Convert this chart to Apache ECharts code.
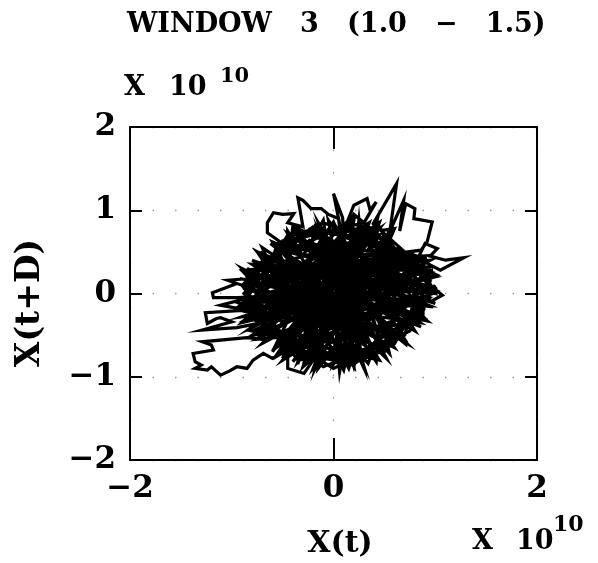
<!DOCTYPE html>
<html>
<head>
<meta charset="utf-8">
<script src="https://cdn.jsdelivr.net/npm/echarts@6/dist/echarts.min.js"></script>
<style>html,body{margin:0;padding:0;background:#fff;}#c{width:598px;height:563px;}</style>
</head>
<body>
<div id="c"></div>
<script>
// Axis ticks and text (values in units of 10^10)
const xTicks = [-2, 0, 2];
const yTicks = [-2, -1, 0, 1, 2];
const titleText = 'WINDOW   3   (1.0   \u2212   1.5)';
const xName = 'X(t)';
const yName = 'X(t+D)';

// Trajectory [X(t), X(t+D)], split into the visible pieces
const core1 = [[0.1,0.0],[0.98,0.28],[0.3,0.1],[0.88,0.45],[0.2,0.2],[0.55,0.5],[0.0,0.15],[0.45,0.82],[-0.1,0.05],[0.28,0.86],[0.1,0.3],[0.05,0.9],[0.2,-0.1],[-0.18,0.84],[0.0,0.2],[-0.4,0.76],[0.15,0.0],[-0.62,0.6],[-0.1,0.1],[-0.8,0.4],[0.0,-0.05],[-0.92,0.18],[-0.2,0.0],[-0.94,-0.05],[-0.1,-0.15],[-0.9,-0.28],[0.0,0.1],[-0.78,-0.5],[-0.15,-0.2],[-0.6,-0.68],[0.1,-0.1],[-0.4,-0.82],[-0.05,-0.2],[-0.18,-0.9],[0.2,0.05],[0.06,-0.94],[0.0,-0.1],[0.3,-0.9],[0.15,0.1],[0.52,-0.78],[-0.1,-0.05],[0.72,-0.6],[0.1,0.15],[0.86,-0.4],[0.0,0.0],[0.98,-0.16],[0.2,-0.05],[1.02,0.06]];
const loopBottomLeft = [[-0.7,-0.55],[-0.85,-0.53],[-1.29,-0.58],[-1.2,-0.62],[-1.18,-0.68],[-1.38,-0.72],[-1.36,-0.82],[-1.3,-0.86],[-1.36,-0.9],[-1.24,-0.92],[-1.2,-0.88],[-1.11,-0.98],[-1.02,-0.93],[-0.95,-0.88],[-0.85,-0.9],[-0.79,-0.8],[-0.69,-0.72],[-0.6,-0.78],[-0.5,-0.7],[-0.2,-0.3]];
const core2 = [[0.95,0.3],[-0.85,-0.3],[0.45,0.78],[-0.5,-0.7],[0.88,-0.3],[-0.75,0.5],[0.2,-0.88],[-0.05,0.88],[0.7,-0.55],[-0.9,0.1],[0.98,0.05],[-0.35,0.78],[0.45,-0.8],[-0.8,-0.45],[0.85,0.42],[-0.2,-0.9],[0.35,0.85],[-0.92,-0.15],[0.95,-0.15],[-0.6,0.62],[0.1,-0.92],[0.42,0.8],[-0.7,-0.6],[0.9,0.45],[-0.88,0.28],[0.6,-0.65],[-0.15,0.85],[0.3,-0.88],[-0.45,0.72],[0.85,-0.35],[-0.8,-0.05],[0.62,0.48],[-0.35,-0.82],[0.15,0.88],[-0.9,-0.35],[1.0,0.2]];
const loopUpperLeft = [[-0.5,0.6],[-0.65,0.73],[-0.65,0.85],[-0.59,0.97],[-0.5,0.95],[-0.39,0.96],[-0.45,0.85],[-0.3,0.8],[-0.35,1.15],[-0.3,1.12],[-0.22,1.02],[-0.12,1.02],[-0.05,0.95],[0.05,0.9],[0.0,1.2],[0.09,0.91],[0.1,0.6]];
const core3 = [[-0.3,-0.05],[-0.85,0.3],[-0.35,0.0],[-0.9,-0.1],[-0.25,-0.1],[-0.82,-0.42],[-0.3,0.05],[-0.6,-0.7],[-0.2,-0.05],[-0.35,-0.85],[-0.3,0.0],[-0.05,-0.8],[-0.35,-0.1],[0.2,-0.6],[-0.25,0.0],[0.3,-0.3],[-0.3,-0.05],[0.25,0.2],[-0.35,0.0],[0.05,0.55],[-0.3,-0.1],[-0.2,0.7],[-0.25,0.0],[-0.5,0.65],[-0.35,-0.05],[-0.72,0.5],[-0.3,0.0],[-0.88,0.15],[-0.4,-0.1],[-0.75,-0.55],[-0.3,-0.05],[-0.5,-0.78],[-0.2,0.0],[-0.15,-0.85]];
const loopRight = [[0.86,0.4],[1.05,0.28],[1.28,0.43],[1.1,0.4],[0.95,0.45],[1.02,0.54],[0.9,0.6],[0.8,0.35],[1.02,0.22],[0.9,0.15],[1.07,-0.02],[0.95,-0.1],[1.0,-0.12],[0.88,-0.05],[0.88,-0.29],[0.92,-0.33],[0.8,-0.3],[0.6,-0.2]];
const core4 = [[0.25,0.3],[0.92,0.42],[0.2,0.25],[0.6,0.5],[0.3,0.3],[0.42,0.85],[0.2,0.35],[0.25,0.88],[0.3,0.25],[0.0,0.85],[0.25,0.3],[-0.25,0.78],[0.2,0.3],[-0.45,0.5],[0.3,0.35],[-0.5,0.2],[0.25,0.25],[-0.35,-0.2],[0.2,0.3],[-0.1,-0.5],[0.3,0.25],[0.15,-0.6],[0.25,0.3],[0.45,-0.55],[0.2,0.35],[0.7,-0.4],[0.3,0.3],[0.9,-0.2],[0.25,0.25],[1.0,0.05],[0.3,0.3],[0.98,0.32],[0.2,0.3],[0.8,0.45]];
const loopLeft = [[-0.82,0.18],[-1.04,0.16],[-0.95,0.12],[-1.19,0.01],[-1.18,-0.05],[-0.82,-0.05],[-1.11,-0.14],[-0.85,-0.2],[-1.26,-0.23],[-1.24,-0.36],[-1.15,-0.3],[-1.11,-0.29],[-1.0,-0.34],[-1.29,-0.44],[-0.95,-0.41],[-0.7,-0.35]];
const core5 = [[0.5,0.2],[-0.5,-0.35],[0.65,0.4],[-0.4,0.3],[0.4,-0.4],[-0.65,0.0],[0.8,0.15],[-0.2,0.6],[0.1,-0.7],[-0.6,0.35],[0.55,-0.2],[-0.3,-0.6],[0.35,0.65],[-0.75,-0.25],[0.75,-0.1],[-0.1,0.5],[0.2,-0.45],[-0.55,0.55],[0.58,0.45],[-0.45,-0.45],[0.85,0.3],[-0.7,0.2],[0.4,-0.7],[-0.15,0.75],[0.05,-0.3],[0.7,0.42],[-0.8,-0.2],[0.45,0.0],[-0.25,-0.75],[0.45,0.7],[-0.55,-0.1],[0.25,-0.8],[0.9,0.1],[-0.35,0.55]];
const loopUpperRight = [[0.7,0.5],[0.39,0.84],[0.62,1.32],[0.56,0.8],[0.5,0.6],[0.69,1.12],[0.65,0.75],[0.71,1.08],[0.8,1.02],[0.79,0.9],[0.97,0.86],[0.92,0.62],[0.86,0.52],[0.49,0.46],[0.49,0.76],[0.6,0.78],[0.5,0.5]];
const core6 = [[-0.6,-0.3],[0.45,0.55],[-0.05,-0.6],[0.65,-0.3],[-0.45,0.4],[0.2,0.6],[-0.75,-0.35],[0.8,0.35],[0.0,-0.85],[0.4,0.75],[-0.85,0.05],[0.55,-0.45],[-0.25,0.65],[0.3,-0.15],[-0.65,-0.55],[0.9,-0.05],[-0.4,0.1],[0.15,0.8],[-0.55,-0.75],[0.75,0.2],[-0.8,0.35],[0.35,-0.6],[-0.1,0.4],[0.38,0.78],[-0.3,-0.4],[0.95,0.4],[-0.6,0.15],[0.1,-0.4],[0.5,0.3],[-0.2,0.2]];
const loopTop = [[0.1,0.75],[0.2,1.06],[0.33,1.14],[0.36,1.0],[0.42,1.1],[0.3,0.85],[0.2,0.95],[0.15,0.8]];
const core7 = [[0.95,0.15],[0.55,0.45],[0.78,0.45],[0.35,0.5],[0.45,0.85],[0.1,0.55],[0.0,0.86],[-0.2,0.5],[-0.4,0.8],[-0.45,0.35],[-0.7,0.55],[-0.55,0.15],[-0.88,0.25],[-0.6,-0.1],[-0.92,-0.12],[-0.55,-0.3],[-0.8,-0.5],[-0.4,-0.45],[-0.55,-0.72],[-0.2,-0.5],[-0.3,-0.88],[0.0,-0.55],[0.15,-0.9],[0.25,-0.5],[0.42,-0.82],[0.45,-0.35],[0.7,-0.6],[0.6,-0.15],[0.9,-0.3],[0.6,0.1],[1.0,0.0]];
const core8 = [[0.85,0.35],[0.1,0.8],[-0.7,0.4],[-0.6,-0.5],[0.2,-0.85],[0.85,-0.25],[0.42,0.75],[-0.3,0.75],[-0.88,0.0],[-0.25,-0.8],[0.6,-0.6],[0.95,0.15],[0.3,0.85],[-0.55,0.6],[-0.8,-0.3],[0.0,-0.9],[0.75,-0.45],[0.82,0.45],[-0.1,0.85],[-0.85,0.2],[-0.45,-0.7],[0.4,-0.75],[0.95,-0.05],[0.45,0.8],[-0.45,0.7],[-0.9,-0.15],[-0.1,-0.88],[0.7,-0.5],[0.9,0.4],[0.0,0.75],[-0.75,0.35],[-0.7,-0.45],[0.15,-0.8],[0.88,-0.2],[0.6,0.48],[-0.2,0.8],[-0.9,0.1],[-0.35,-0.8],[0.5,-0.7],[1.0,0.1]];
const core9 = [[0.9,-0.1],[0.5,-0.05],[0.95,0.25],[0.5,0.3],[0.75,0.48],[0.35,0.45],[0.42,0.82],[0.15,0.5],[0.2,0.88],[-0.05,0.5],[-0.1,0.88],[-0.3,0.45],[-0.45,0.75],[-0.45,0.3],[-0.75,0.5],[-0.5,0.05],[-0.9,0.3],[-0.55,-0.15],[-0.92,-0.2],[-0.45,-0.35],[-0.75,-0.55],[-0.3,-0.5],[-0.5,-0.8],[-0.1,-0.5],[-0.15,-0.9],[0.1,-0.5],[0.2,-0.88],[0.3,-0.4],[0.55,-0.72],[0.45,-0.2],[0.8,-0.45],[0.55,0.05],[0.98,0.0]];
const loopBottom = [[-0.45,-0.6],[-0.45,-0.9],[-0.29,-0.96],[-0.2,-0.8],[-0.13,-0.77],[0.0,-0.8],[0.07,-0.86],[0.12,-0.7],[0.2,-0.65],[0.28,-0.75],[0.34,-0.84],[0.4,-0.65],[0.49,-0.48],[0.3,-0.3]];

const points = [].concat(core1, loopBottomLeft, core2, loopUpperLeft, core3, loopRight, core4,
  loopLeft, core5, loopUpperRight, core6, loopTop, core7, core8, core9, loopBottom);

const FONT = '"DejaVu Serif", serif';
const chart = echarts.init(document.getElementById('c'), null, {renderer: 'canvas'});

const axisLineStyle = {color: '#000', width: 2};
const dotted = {show: true, lineStyle: {color: '#999', width: 1.3, type: [1.5, 21]}};
const tickFmt = v => (v < 0 ? '\u2212' + Math.abs(v) : String(v));

chart.setOption({
  animation: false,
  backgroundColor: '#fff',
  title: {
    text: titleText,
    left: 122, top: 6,
    textStyle: {fontFamily: FONT, fontWeight: 'bold', fontSize: 27, color: '#000'}
  },
  graphic: [
    {type: 'text', left: 124, top: 74, style: {text: 'X', font: 'bold 27px "DejaVu Serif"', fill: '#000'}},
    {type: 'text', left: 169, top: 74, style: {text: '10', font: 'bold 27px "DejaVu Serif"', fill: '#000'}},
    {type: 'text', left: 220, top: 66, style: {text: '10', font: 'bold 21px "DejaVu Serif"', fill: '#000'}},
    {type: 'text', left: 472, top: 528, style: {text: 'X', font: 'bold 27px "DejaVu Serif"', fill: '#000'}},
    {type: 'text', left: 516, top: 528, style: {text: '10', font: 'bold 27px "DejaVu Serif"', fill: '#000'}},
    {type: 'text', left: 553, top: 514, style: {text: '10', font: 'bold 22px "DejaVu Serif"', fill: '#000'}},
    {type: 'text', x: 340, y: 544, style: {text: xName, font: 'bold 30px "DejaVu Serif"', fill: '#000', textAlign: 'center', textVerticalAlign: 'middle'}},
    {type: 'text', x: 30, y: 303, rotation: Math.PI / 2, style: {text: yName, font: 'bold 33px "DejaVu Serif"', fill: '#000', textAlign: 'center', textVerticalAlign: 'middle'}}
  ],
  grid: {left: 130, right: 61, top: 127, bottom: 103, containLabel: false},
  xAxis: [
    {
      type: 'value', position: 'bottom', min: xTicks[0], max: xTicks[xTicks.length - 1], interval: 2,
      axisLine: {show: true, onZero: false, lineStyle: axisLineStyle},
      axisTick: {show: true, inside: true, length: 22, lineStyle: {color: '#000', width: 2}},
      axisLabel: {show: true, margin: 13, fontFamily: FONT, fontWeight: 'bold', fontSize: 31, color: '#000', formatter: tickFmt},
      splitLine: dotted
    },
    {
      type: 'value', position: 'top', min: -2, max: 2, interval: 2,
      axisLine: {show: true, onZero: false, lineStyle: axisLineStyle},
      axisTick: {show: true, inside: true, length: 22, lineStyle: {color: '#000', width: 2}},
      axisLabel: {show: false}, splitLine: {show: false}
    }
  ],
  yAxis: [
    {
      type: 'value', position: 'left', min: yTicks[0], max: yTicks[yTicks.length - 1], interval: 1,
      axisLine: {show: true, onZero: false, lineStyle: axisLineStyle},
      axisTick: {show: true, inside: true, length: 12, lineStyle: {color: '#000', width: 2}},
      axisLabel: {show: true, margin: 14, fontFamily: FONT, fontWeight: 'bold', fontSize: 31, color: '#000', formatter: tickFmt},
      splitLine: dotted
    },
    {
      type: 'value', position: 'right', min: -2, max: 2, interval: 1,
      axisLine: {show: true, onZero: false, lineStyle: axisLineStyle},
      axisTick: {show: true, inside: true, length: 12, lineStyle: {color: '#000', width: 2}},
      axisLabel: {show: false}, splitLine: {show: false}
    }
  ],
  series: [{
    type: 'line',
    xAxisIndex: 0, yAxisIndex: 0,
    data: points,
    showSymbol: false,
    symbol: 'none',
    smooth: false,
    lineStyle: {color: '#000', width: 3.2, join: 'miter'},
    emphasis: {disabled: true}
  }]
});
</script>
</body>
</html>
